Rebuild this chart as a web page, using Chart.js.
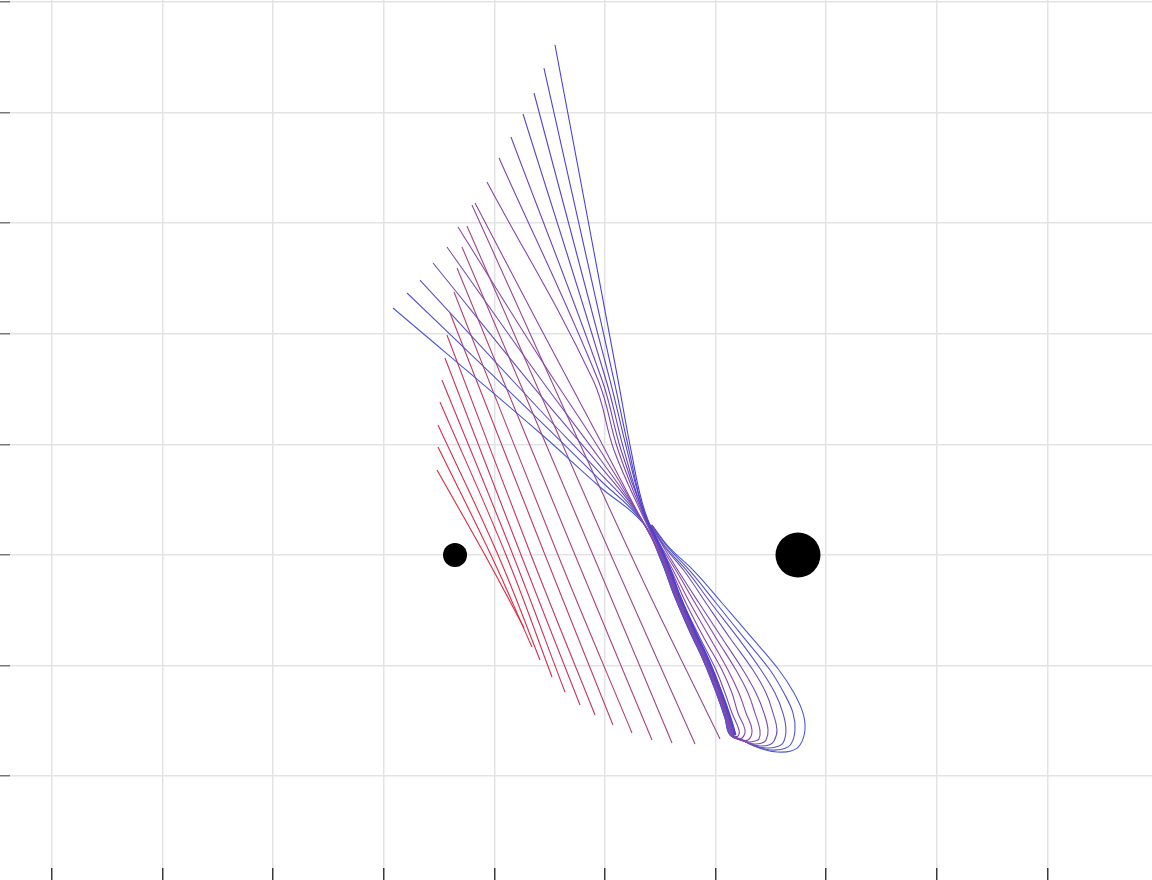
<!DOCTYPE html>
<html>
<head>
<meta charset="utf-8">
<script src="https://cdn.jsdelivr.net/npm/chart.js"></script>
<style>
    body { margin: 0; background: #fff; }
    #chart-container { width: 1152px; height: 880px; }
</style>
</head>
<body>
<div id="chart-container"><canvas id="trajChart" width="1152" height="880"></canvas></div>
<script>
// Axis window (grid units, one grid cell = 1)
var xMin = -4.3797, xMax = 5.9458;
var yMin = -2.830, yMax = 5.018;

// Bodies
var bodyX = [-0.356, 2.745];
var bodyY = [0, 0];

// Red family: top end, crossing of y = 0, bottom end
var redTopX = [-0.519, -0.510, -0.510, -0.492, -0.474, -0.447, -0.429, -0.401, -0.365, -0.338, -0.293, -0.248, -0.203];
var redTopY = [0.769, 0.976, 1.175, 1.383, 1.582, 1.781, 1.989, 2.188, 2.378, 2.595, 2.785, 2.975, 3.165];
var redMidX = [-0.085, -0.031, 0.033, 0.105, 0.168, 0.241, 0.331, 0.458, 0.575, 0.729, 0.892, 1.054, 1.235];
var redMidY = [0, 0, 0, 0, 0, 0, 0, 0, 0, 0, 0, 0, 0];
var redEndX = [0.268, 0.340, 0.412, 0.521, 0.638, 0.774, 0.910, 1.072, 1.244, 1.425, 1.606, 1.814, 2.040];
var redEndY = [-0.660, -0.832, -0.949, -1.103, -1.239, -1.356, -1.447, -1.537, -1.609, -1.673, -1.700, -1.709, -1.664];

// Loop family: top end, two points on the way in, the pinch
var loopTopX = [0.548, 0.448, 0.358, 0.259, 0.150, 0.042, -0.067, -0.175, -0.329, -0.429, -0.555, -0.673, -0.790, -0.917];
var loopTopY = [4.611, 4.403, 4.177, 3.987, 3.779, 3.590, 3.373, 3.183, 2.966, 2.785, 2.640, 2.486, 2.369, 2.233];
var loopMidX = [1.118, 1.081, 1.045, 1.009, 0.973, 0.937, 0.892, 0.412, 0.412, 0.412, 0.412, 0.412, 0.412, 0.412];
var loopMidY = [1.582, 1.582, 1.582, 1.582, 1.582, 1.582, 1.582, 2.061, 1.781, 1.600, 1.447, 1.311, 1.212, 1.103];
var loopNearX = [1.235, 1.217, 1.199, 1.172, 1.145, 1.118, 1.081, 0.955, 0.955, 0.955, 0.955, 0.955, 0.955, 0.955];
var loopNearY = [0.949, 0.949, 0.949, 0.949, 0.949, 0.949, 0.949, 1.040, 0.949, 0.868, 0.805, 0.741, 0.678, 0.615];
var loopPinchX = [1.362, 1.353, 1.353, 1.344, 1.344, 1.335, 1.325, 1.289, 1.298, 1.307, 1.316, 1.325, 1.335, 1.344];
var loopPinchY = [0.389, 0.389, 0.389, 0.389, 0.389, 0.389, 0.389, 0.398, 0.380, 0.362, 0.344, 0.326, 0.307, 0.289];
var loopBandShift = [0.045, 0.041, 0.036, 0.032, 0.027, 0.023, 0.018, 0.014, 0.009, 0.005, 0, -0.005, -0.009, -0.009];

// Band below the pinch, down to the tip
var bandX = [1.515, 1.633, 1.769, 1.904, 2.022, 2.094, 2.139];
var bandY = [-0.045, -0.362, -0.678, -0.967, -1.266, -1.474, -1.627];

// Way back from the tip: bottom, right end, right side up to the pinch
var loopBackX = [
    [], [], [], [], [],
    [2.202, 2.211, 2.148, 2.085, 2.004, 1.859, 1.705, 1.588, 1.479, 1.407],
    [2.193, 2.239, 2.266, 2.202, 2.148, 2.058, 1.895, 1.732, 1.606, 1.488, 1.407],
    [2.221, 2.293, 2.329, 2.275, 2.211, 2.112, 1.949, 1.769, 1.624, 1.497, 1.416],
    [2.193, 2.248, 2.302, 2.356, 2.392, 2.401, 2.356, 2.293, 2.184, 2.004, 1.814, 1.651, 1.506, 1.416],
    [2.211, 2.284, 2.347, 2.420, 2.456, 2.474, 2.438, 2.365, 2.248, 2.058, 1.850, 1.669, 1.524, 1.416],
    [2.221, 2.320, 2.401, 2.483, 2.528, 2.555, 2.519, 2.456, 2.338, 2.130, 1.913, 1.723, 1.533, 1.416],
    [2.239, 2.347, 2.456, 2.546, 2.609, 2.636, 2.609, 2.537, 2.411, 2.202, 1.958, 1.750, 1.542, 1.425],
    [2.257, 2.383, 2.501, 2.609, 2.682, 2.718, 2.700, 2.618, 2.492, 2.257, 2.004, 1.778, 1.560, 1.425],
    [2.275, 2.420, 2.555, 2.682, 2.763, 2.808, 2.790, 2.709, 2.573, 2.329, 2.058, 1.814, 1.569, 1.425]
];
var loopBackY = [
    [], [], [], [], [],
    [-1.637, -1.582, -1.429, -1.248, -1.040, -0.750, -0.434, -0.154, 0.081, 0.271],
    [-1.655, -1.655, -1.582, -1.429, -1.248, -1.040, -0.750, -0.434, -0.154, 0.081, 0.271],
    [-1.664, -1.673, -1.582, -1.429, -1.248, -1.040, -0.750, -0.434, -0.154, 0.081, 0.271],
    [-1.655, -1.682, -1.691, -1.682, -1.664, -1.582, -1.429, -1.248, -1.040, -0.750, -0.434, -0.154, 0.081, 0.271],
    [-1.664, -1.691, -1.709, -1.700, -1.673, -1.582, -1.429, -1.248, -1.040, -0.750, -0.434, -0.154, 0.081, 0.271],
    [-1.664, -1.709, -1.727, -1.718, -1.682, -1.582, -1.429, -1.248, -1.040, -0.750, -0.434, -0.154, 0.081, 0.271],
    [-1.673, -1.727, -1.745, -1.736, -1.700, -1.582, -1.429, -1.248, -1.040, -0.750, -0.434, -0.154, 0.081, 0.271],
    [-1.682, -1.736, -1.763, -1.754, -1.709, -1.582, -1.429, -1.248, -1.040, -0.750, -0.434, -0.154, 0.081, 0.271],
    [-1.691, -1.754, -1.781, -1.772, -1.718, -1.582, -1.429, -1.248, -1.040, -0.750, -0.434, -0.154, 0.081, 0.271]
];

// Styles
var redColors = ['#e0263e', '#dc2a44', '#d82e4a', '#d43050', '#d03256', '#cb345c', '#c53662',
    '#be3a6a', '#b63e72', '#ae427a', '#a64582', '#9e488a', '#964a92'];
var loopColors = ['#4640da', '#4e42d2', '#5644ca', '#6046c2', '#6c46ba', '#7846b2', '#8446aa',
    '#8e46a4', '#8648aa', '#7a4ab2', '#6c4eba', '#5e52c2', '#5256ca', '#4a5ad0'];
var bodyRadius = [12, 22.5];

function lineSet(points, color) {
    return {
        type: 'scatter',
        data: points,
        showLine: true,
        borderColor: color,
        borderWidth: 1.1,
        pointRadius: 0,
        tension: 0.4,
        fill: false
    };
}

var datasets = [];

// Bodies on top
datasets.push({
    type: 'scatter',
    data: bodyX.map(function (x, i) { return { x: x, y: bodyY[i] }; }),
    pointRadius: bodyRadius,
    pointBackgroundColor: '#000',
    pointBorderWidth: 0,
    showLine: false
});

// Loop curves
loopTopX.forEach(function (x, i) {
    var pts = [
        { x: loopTopX[i], y: loopTopY[i] },
        { x: loopMidX[i], y: loopMidY[i] },
        { x: loopNearX[i], y: loopNearY[i] },
        { x: loopPinchX[i], y: loopPinchY[i] }
    ];
    bandX.forEach(function (bx, j) { pts.push({ x: bx + loopBandShift[i], y: bandY[j] }); });
    loopBackX[i].forEach(function (bx, j) { pts.push({ x: bx, y: loopBackY[i][j] }); });
    datasets.push(lineSet(pts, loopColors[i]));
});

// Red curves
redTopX.forEach(function (x, i) {
    var pts = [
        { x: redTopX[i], y: redTopY[i] },
        { x: redMidX[i], y: redMidY[i] },
        { x: redEndX[i], y: redEndY[i] }
    ];
    datasets.push(lineSet(pts, redColors[i]));
});

var ctx = document.getElementById('trajChart').getContext('2d');
var trajChart = new Chart(ctx, {
    type: 'scatter',
    data: { datasets: datasets },
    options: {
        responsive: false,
        animation: false,
        layout: { padding: 0, autoPadding: false },
        plugins: {
            legend: { display: false },
            tooltip: { enabled: false }
        },
        scales: {
            x: {
                type: 'linear',
                position: 'bottom',
                min: xMin,
                max: xMax,
                ticks: { stepSize: 1, display: false, includeBounds: false, autoSkip: false },
                grid: { color: '#e3e3e3', lineWidth: 1.5, drawTicks: true, tickLength: 12, tickColor: '#3a3a3a', tickWidth: 1.5 },
                border: { display: false }
            },
            y: {
                type: 'linear',
                position: 'left',
                min: yMin,
                max: yMax,
                ticks: { stepSize: 1, display: false, includeBounds: false, autoSkip: false },
                grid: { color: '#e3e3e3', lineWidth: 1.5, drawTicks: true, tickLength: 10, tickColor: '#777', tickWidth: 1.5 },
                border: { display: false }
            }
        }
    }
});
</script>
</body>
</html>
